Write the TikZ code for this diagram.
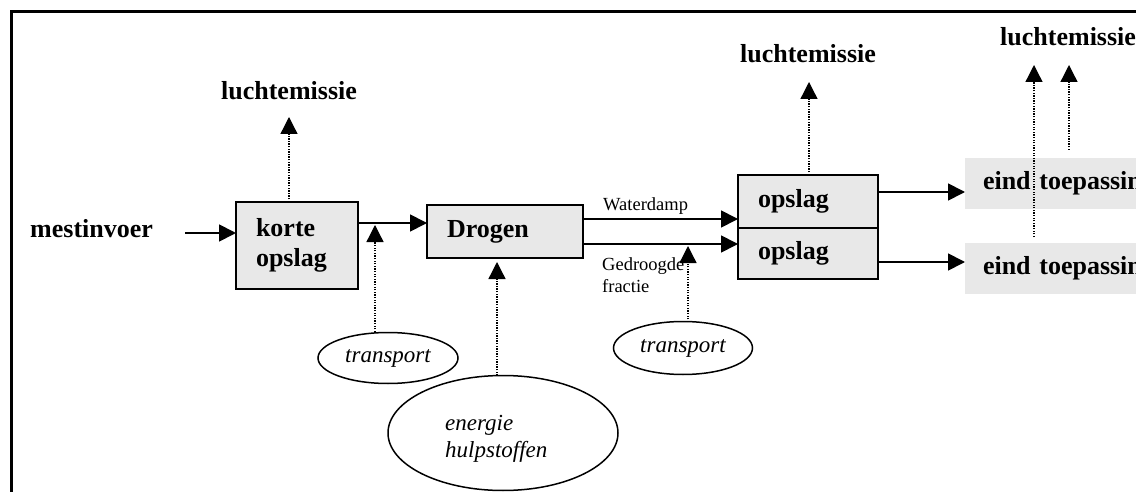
\documentclass[tikz,border=0pt]{standalone}
\usepackage{fontspec}
\setmainfont{Liberation Serif}
\usetikzlibrary{arrows.meta,shapes.geometric}
\definecolor{boxgray}{RGB}{232,232,232}
\begin{document}
\begin{tikzpicture}[x=1pt,y=-1pt,
  bigfont/.style={font=\fontsize{26}{30}\selectfont\bfseries},
  procbox/.style={draw, line width=1.8pt, fill=boxgray, bigfont, align=left,
    inner xsep=20pt, inner ysep=0pt, outer sep=0pt, anchor=north west},
  endbox/.style={fill=boxgray, bigfont, inner xsep=18pt, inner ysep=0pt,
    outer sep=0pt, anchor=north west, minimum height=51pt, minimum width=220pt,
    text width=200pt, align=left},
  lbl/.style={bigfont, inner sep=0pt},
  small/.style={font=\fontsize{18.5}{21}\selectfont, inner sep=0pt, anchor=base west},
  ell/.style={draw, ellipse, line width=1.5pt, inner sep=0pt,
    font=\fontsize{23}{27}\selectfont\itshape},
  itl/.style={font=\fontsize{23}{27}\selectfont\itshape, inner sep=0pt, anchor=base west},
  arr/.style={line width=1.8pt, -{Triangle[length=17pt,width=17pt]}},
  dotarr/.style={line width=1.3pt, dash pattern=on 1.3pt off 1.3pt,
    -{Triangle[length=17pt,width=17pt]}}]
\clip (0,0) rectangle (1136,492);
\fill[white] (0,0) rectangle (1136,492);
% frame
\draw[line width=3pt] (1140,11.5) -- (11.5,11.5) -- (11.5,500);

% boxes
\node[procbox, text width=82pt, minimum height=87pt] (korte) at (236,202) {korte\\opslag};
\node[procbox, text width=116pt, minimum height=53pt] (drogen) at (427,205) {Drogen};
\node[procbox, text width=100pt, minimum height=53pt] (ops1) at (738,175) {opslag};
\node[procbox, text width=100pt, minimum height=51pt] (ops2) at (738,228) {opslag};
\node[endbox] (eind1) at (965,158) {eind toepassing};
\node[endbox] (eind2) at (965,243) {eind toepassing};

% labels
\node[lbl, anchor=base] (l1) at (289,100) {luchtemissie};
\node[lbl, anchor=base] (l2) at (808,63) {luchtemissie};
\node[lbl, anchor=base west] (l3) at (1000,46) {luchtemissie};
\node[lbl, anchor=base west] (mest) at (30,237) {mestinvoer};
\node[small] (wd) at (603,211) {Waterdamp};
\node[small] (gd1) at (602,270) {Gedroogde};
\node[small] (gd2) at (602,292) {fractie};

% ellipses
\node[ell, minimum width=140pt, minimum height=51pt] (tr1) at (388,358) {transport};
\node[ell, minimum width=139pt, minimum height=53pt] (tr2) at (683,348) {transport};
\node[ell, minimum width=230pt, minimum height=115pt] (en) at (503,433) {};
\node[itl] (en1) at (445,430) {energie};
\node[itl] (en2) at (445,457) {hulpstoffen};

% solid arrows
\coordinate (m0) at (185,233);
\draw[arr] (m0) -- (m0 -| korte.west);
\draw[arr] (korte.east |- 0,223) -- (drogen.west |- 0,223);
\draw[arr] (drogen.east |- 0,219) -- (ops1.west |- 0,219);
\draw[arr] (drogen.east |- 0,244) -- (ops2.west |- 0,244);
\draw[arr] (ops1.east |- 0,192) -- (eind1.west |- 0,192);
\draw[arr] (ops2.east |- 0,262) -- (eind2.west |- 0,262);

% dotted arrows
\draw[dotarr] (korte.north -| l1.base) -- ([yshift=-17pt]l1.base);
\draw[dotarr] (ops1.north -| 809,0) -- (809,82);
\coordinate (t1a) at (375,332);
\draw[dotarr] (t1a) -- (t1a |- 0,225);
\coordinate (ena) at (497,375.5);
\draw[dotarr] (ena) -- (ena |- 0,262);
\coordinate (t2a) at (688,322);
\draw[dotarr] (t2a) -- (t2a |- 0,246);
\coordinate (a3) at (1034,237);
\draw[dotarr] (a3) -- (a3 |- 0,65);
\coordinate (b3) at (1069,150);
\draw[dotarr] (b3) -- (b3 |- 0,65);
\end{tikzpicture}
\end{document}
